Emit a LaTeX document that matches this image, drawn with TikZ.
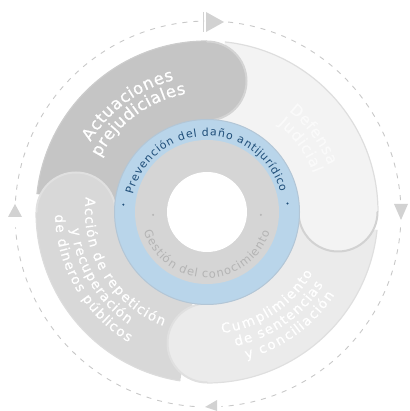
\documentclass[tikz,border=0pt]{standalone}
\usepackage{fontspec}
\setmainfont{DejaVu Sans}
\newfontfamily\labelfont[FakeBold=0.8]{DejaVu Sans}
\usetikzlibrary{decorations.text,calc}
\definecolor{dashgrey}{HTML}{C8C8C8}
\definecolor{trigrey}{HTML}{D2D2D2}
\definecolor{segA}{HTML}{C5C5C5}
\definecolor{segB}{HTML}{F3F3F3}
\definecolor{segC}{HTML}{EBEBEB}
\definecolor{segD}{HTML}{D8D8D8}
\definecolor{edgeA}{HTML}{D4D4D4}
\definecolor{edgeB}{HTML}{D2D2D2}
\definecolor{edgeC}{HTML}{E0E0E0}
\definecolor{edgeD}{HTML}{E0E0E0}
\definecolor{rimA}{HTML}{CCCCCC}
\definecolor{rimB}{HTML}{DEDEDE}
\definecolor{rimC}{HTML}{DFDFDF}
\definecolor{rimD}{HTML}{DCDCDC}
\definecolor{ringblue}{HTML}{B9D5EA}
\definecolor{ringedge}{HTML}{B3C6D6}
\definecolor{ringgrey}{HTML}{D5D5D5}
\definecolor{bluetext}{HTML}{1F4E79}
\definecolor{greytext}{HTML}{B4B4B4}
\definecolor{faint}{HTML}{FAFAFA}
\tikzset{
  dashring/.style={draw=dashgrey,line width=0.9pt,dash pattern=on 5pt off 6pt},
  tri/.style={fill=trigrey,draw=none},
  seg/.style={line width=1.2pt},
  ringdot/.style={circle,draw=none,inner sep=0.8pt},
}
% band: colour, rim colour, start angle, end angle
\newcommand{\bandseg}[4]{%
  \fill[#1] (#3:92pt) -- (#3:171pt) arc[start angle=#3,end angle=#4,radius=171pt] -- (#4:92pt) arc[start angle=#4,end angle=#3,radius=92pt] -- cycle;
  \draw[#2,seg] (#3:171pt) arc[start angle=#3,end angle=#4,radius=171pt];
}
% lobe: colour, edge colour, angle; the edge shows on the clockwise half only
\newcommand{\lobeseg}[3]{%
  \fill[#1] (#3:131pt) circle[radius=39.5pt];
  \draw[#2,line width=2pt,line cap=round] ($(#3:131pt)+(#3:39.5pt)$) arc[start angle=#3,end angle=#3-180,radius=39.5pt];}
% text fitted to an arc: radius, start angle, end angle, text, size, colour, font
\newcommand{\arctext}[7]{%
  \path[decorate,decoration={text effects along path,text={#4},
    text effects/.cd,fit text to path,
    characters={text along path,font=\fontsize{#5}{#5}\selectfont#7,text=#6}}]
    (#2:#1pt) arc[start angle=#2,end angle=#3,radius=#1pt];}
\begin{document}
\begin{tikzpicture}[x=1pt,y=1pt]
\useasboundingbox (0pt,0pt) rectangle (409pt,411pt);
\begin{scope}[shift={(207pt,199pt)}]
  % outer dashed circle
  \begin{scope}[shift={(1pt,-2pt)}]
    \draw[dashring] (84:193pt) arc[start angle=84,end angle=2,radius=193pt];
    \draw[dashring] (-4:193pt) arc[start angle=-4,end angle=-86,radius=193pt];
    \draw[dashring] (-94:193pt) arc[start angle=-94,end angle=-176,radius=193pt];
    \draw[dashring] (176:193pt) arc[start angle=176,end angle=91,radius=193pt];
  \end{scope}
  % bands
  \bandseg{segA}{rimA}{90}{174}
  \bandseg{segB}{rimB}{0}{84}
  \bandseg{segC}{rimC}{-90}{-6}
  \bandseg{segD}{rimD}{180}{261}
  % lobes
  \lobeseg{segA}{edgeA}{90}
  \lobeseg{segB}{edgeB}{0}
  \lobeseg{segC}{edgeC}{-90}
  \lobeseg{segD}{edgeD}{180}
  % inner rings
  \filldraw[fill=ringblue,draw=ringedge,line width=1pt] (0pt,0pt) circle[radius=92.5pt];
  \fill[ringgrey] (0pt,0pt) circle[radius=72pt];
  \fill[white] (0pt,0pt) circle[radius=40pt];
  % labels
  \arctext{136}{149}{104}{Actuaciones}{16.5}{white}{\labelfont}
  \arctext{120}{153}{100}{prejudiciales}{16.5}{white}{\labelfont}
  \arctext{130}{51}{21}{Defensa}{15.5}{faint}{\labelfont}
  \arctext{113}{51}{20}{Judicial}{15.5}{faint}{\labelfont}
  \arctext{122}{277}{330}{Cumplimiento}{13.5}{white}{\labelfont}
  \arctext{137}{282}{328}{de sentencias}{13.5}{white}{\labelfont}
  \arctext{152}{285}{327}{y conciliación}{13.5}{white}{\labelfont}
  \arctext{122}{173}{249}{Acción de repetición}{13.5}{white}{\labelfont}
  \arctext{137}{187}{235}{y recuperación}{13.5}{white}{\labelfont}
  \arctext{152}{181}{239}{de dineros públicos}{13.5}{white}{\labelfont}
  \arctext{76}{167}{15}{Prevención del daño antijurídico}{11}{bluetext}{}
  \arctext{66}{197}{342}{Gestión del conocimiento}{11.5}{greytext}{}
  \node[ringdot,fill=bluetext] (dotBL) at (175:84pt) {};
  \node[ringdot,fill=bluetext] (dotBR) at (6:81pt) {};
  \node[ringdot,fill=greytext] (dotL) at (183:54pt) {};
  \node[ringdot,fill=greytext] (dotR) at (-3:54pt) {};
\end{scope}
% arrow triangles (page coordinates, y measured up)
\draw[trigrey,line width=1pt] (203pt,399pt) -- (203pt,379pt);
\fill[tri] (206pt,399pt) -- (206pt,379pt) -- (224pt,389pt) -- cycle;
\fill[tri] (394pt,207pt) -- (408pt,207pt) -- (401pt,191pt) -- cycle;
\fill[tri] (217pt,11pt) -- (217pt,0pt) -- (205pt,4pt) -- cycle;
\fill[tri] (8pt,194pt) -- (22pt,194pt) -- (15pt,207pt) -- cycle;
\end{tikzpicture}
\end{document}
